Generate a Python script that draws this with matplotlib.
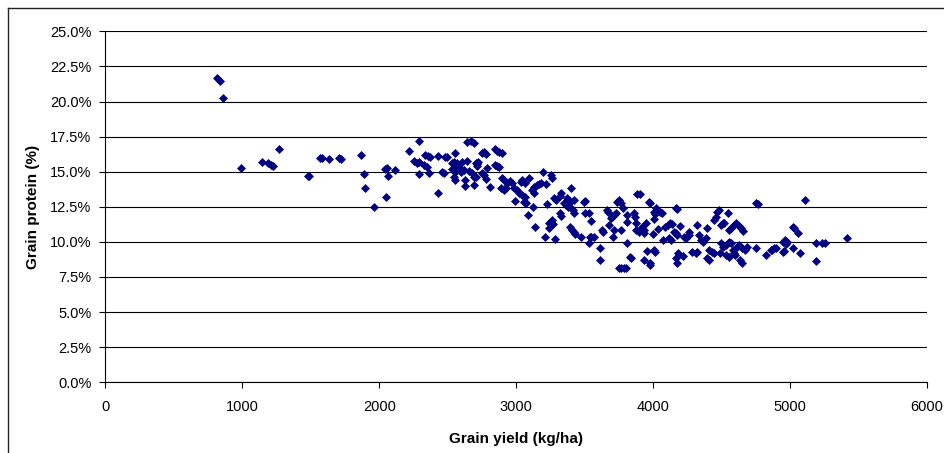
import matplotlib
matplotlib.use("Agg")
import matplotlib.pyplot as plt
from matplotlib.ticker import PercentFormatter, MultipleLocator
from matplotlib.lines import Line2D

plt.rcParams['font.family'] = ['Liberation Sans', 'DejaVu Sans']

# Grain yield (kg/ha)
yield_kg = [
    819, 838, 863, 992, 1142, 1187, 1209, 1228, 1270, 1479, 1490, 1565, 1580, 1631, 1707, 1722,
    1867, 1886, 1896, 1960, 2049, 2046, 2058, 2063, 2115,
    2216, 2287, 2255, 2273, 2287, 2287, 2336, 2356, 2373, 2324, 2349, 2361, 2427, 2430, 2459, 2471,
    2478, 2496, 2557, 2528, 2545, 2557, 2570, 2582, 2533, 2552, 2570, 2545, 2552, 2607, 2644, 2594,
    2619, 2626, 2626, 2644, 2668, 2692, 2656, 2675, 2692, 2705, 2724, 2717, 2705, 2754, 2766, 2778,
    2749, 2766, 2778, 2810, 2786, 2842, 2859, 2876, 2896, 2842, 2859, 2876, 2896, 2908, 2891, 2908,
    2926, 2958, 2970, 2995, 3032, 3044, 3007, 3024, 3044, 3056, 2933, 2913, 2982, 2575, 2692, 2715, 2760,
    3061, 3093, 3061, 3068, 3073, 3090, 3125, 3140, 3129, 3149, 3166, 3117, 3129, 3198, 3184, 3215,
    3252, 3265, 3228, 3208, 3240, 3252, 3265, 3269, 3240, 3282, 3277, 3290, 3326, 3321, 3321, 3331,
    3350, 3363, 3370, 3382, 3390, 3382, 3400, 3415, 3424, 3400, 3395, 3407, 3419, 3432, 3424, 3474,
    3493, 3505, 3505, 3530, 3550, 3537, 3547, 3530, 3572, 3611, 3611, 3626, 3636, 3660, 3670, 3677,
    3690, 3702, 3714, 3726, 3709, 3714, 3739, 3751, 3763, 3763, 3751, 3768, 3788, 3800, 3783, 3808,
    3813, 3808, 3832, 3842, 3861, 3866, 3874, 3874, 3898, 3886, 3905, 3916, 3931, 3935, 3931, 3972, 3977,
    3979, 3947, 3955, 3979, 4004, 4011, 4004, 4021, 3997, 4004, 4016, 4053, 4065, 4035, 4070, 4090,
    4110, 4127, 4139, 4151, 4164, 4176, 4169, 4176, 4119, 4134, 4181, 4164, 4176, 4195, 4217, 4225,
    4242, 4262, 4262, 4287, 4311, 4323, 4323, 4336, 4348, 4365, 4385, 4397, 4397, 4409, 4409, 4433,
    4446, 4446, 4458, 4470, 4482, 4495, 4509, 4520, 4495, 4513, 4532, 4490, 4545, 4532, 4552, 4556,
    4569, 4556, 4569, 4588, 4606, 4625, 4645, 4654, 4581, 4588, 4601, 4613, 4630, 4650, 4669, 4686,
    4638, 4650, 4748, 4768, 4755, 4827, 4859, 4883,
    5109, 5019, 5031, 5060, 4945, 4962, 4977, 4969, 4896, 4871, 4945, 4957, 5019, 5075, 5193, 5193,
    5235, 5252, 5419,
]

# Grain protein (%)
protein_pct = [
    21.67, 21.46, 20.25, 15.28, 15.71, 15.6, 15.48, 15.4, 16.64, 14.72, 14.7, 16.0, 15.95, 15.93, 15.97, 15.93,
    16.2, 14.86, 13.86, 12.49, 13.22, 15.19, 15.26, 14.72, 15.14,
    16.47, 17.19, 15.78, 15.64, 15.71, 14.81, 16.19, 16.12, 16.07, 15.48, 15.36, 14.88, 16.14, 13.46, 15.0, 14.88,
    16.02, 16.02, 16.36, 15.6, 15.71, 15.48, 15.64, 15.36, 15.17, 15.0, 15.12, 14.64, 14.41, 15.71, 15.78, 15.0,
    15.12, 14.41, 13.98, 17.14, 17.19, 17.02, 15.07, 14.88, 14.05, 15.6, 15.71, 15.4, 14.64, 16.31, 16.43, 16.26,
    14.88, 14.76, 14.46, 13.93, 15.24, 16.6, 16.5, 16.43, 16.35, 15.48, 15.4, 15.31, 14.57, 14.41, 13.82, 13.7,
    13.82, 14.36, 14.17, 12.94, 14.29, 14.41, 13.7, 13.5, 13.34, 12.86, 14.17, 13.74, 13.82, 15.19, 14.62, 15.52, 14.83,
    14.17, 14.53, 13.22, 12.86, 12.75, 11.94, 12.51, 11.08, 13.93, 14.05, 14.12, 13.7, 13.5, 14.96, 14.17, 14.12,
    14.76, 14.53, 12.7, 10.33, 11.32, 11.44, 11.56, 11.27, 10.97, 10.21, 13.1, 12.98, 13.46, 13.27, 12.04, 11.84,
    12.75, 12.63, 13.1, 12.98, 12.86, 12.51, 12.39, 12.27, 12.08, 13.82, 11.08, 10.85, 10.73, 10.56, 12.98, 10.37,
    12.86, 12.94, 12.04, 12.08, 11.51, 10.33, 10.37, 9.94, 10.33, 9.59, 8.71, 10.85, 10.73, 12.27, 12.15, 11.2,
    11.68, 11.8, 11.92, 12.04, 10.33, 10.85, 12.86, 12.98, 12.8, 10.85, 8.12, 8.12, 8.12, 8.12, 12.39, 11.92,
    11.44, 9.94, 8.95, 8.83, 12.04, 11.8, 11.32, 10.85, 10.73, 13.39, 13.39, 11.08, 10.85, 10.61, 8.71, 12.86, 8.35,
    12.8, 11.32, 9.35, 8.47, 12.15, 11.97, 11.61, 12.39, 10.54, 9.42, 9.3, 12.15, 12.04, 10.9, 10.14, 11.08,
    11.2, 11.32, 11.25, 10.73, 10.61, 10.49, 12.39, 12.32, 10.26, 10.14, 9.23, 8.83, 8.52, 11.13, 9.0, 10.37,
    10.26, 10.49, 10.73, 9.3, 9.19, 9.3, 11.2, 10.49, 10.14, 10.02, 10.26, 11.02, 8.83, 8.71, 9.42, 9.3,
    9.19, 11.56, 11.8, 12.15, 12.27, 11.2, 11.32, 11.37, 9.9, 9.66, 9.78, 9.19, 12.04, 9.07, 8.95, 10.85,
    10.97, 10.02, 9.9, 11.2, 11.32, 11.13, 10.97, 10.8, 9.42, 9.19, 9.07, 9.66, 9.78, 9.54, 9.42, 9.61,
    8.71, 8.52, 9.54, 12.68, 12.75, 9.07, 9.42, 9.54,
    12.98, 11.08, 11.02, 10.66, 10.02, 10.14, 10.02, 9.85, 9.54, 9.42, 9.3, 9.37, 9.59, 9.19, 9.9, 8.66,
    9.9, 9.9, 10.3,
]

x_ticks = [0, 1000, 2000, 3000, 4000, 5000, 6000]

W, H = 944, 453
fig = plt.figure(figsize=(W / 100, H / 100), dpi=100)
ax = fig.add_axes([105.3 / W, 1 - 382.3 / H, (927 - 105.3) / W, (382.3 - 31.3) / H])

ax.plot(yield_kg, protein_pct, linestyle='none', marker='D', markersize=3.6,
        markerfacecolor='#000080', markeredgecolor='#000080', markeredgewidth=0.5, zorder=3)

ax.set_xlim(0, 6000)
ax.set_ylim(0, 25)
ax.set_xticks(x_ticks)
ax.yaxis.set_major_locator(MultipleLocator(2.5))
ax.yaxis.set_major_formatter(PercentFormatter(xmax=100, decimals=1))
ax.grid(axis='y', color='black', linewidth=0.8, zorder=1)
ax.set_axisbelow(True)

for s in ['top', 'right']:
    ax.spines[s].set_visible(False)
for s in ['left', 'bottom']:
    ax.spines[s].set_color('black')
    ax.spines[s].set_linewidth(0.8)

ax.tick_params(axis='both', direction='out', length=4, width=0.8, color='black',
               labelsize=10.5, labelcolor='black')
ax.tick_params(axis='x', pad=9)
ax.tick_params(axis='y', pad=6)

ax.set_xlabel('Grain yield (kg/ha)', fontsize=11, fontweight='bold', labelpad=13)
ax.set_ylabel('Grain protein (%)', fontsize=11, fontweight='bold', labelpad=7)

# chart-area border (left and top visible)
fig.add_artist(Line2D([8 / W, 1.0], [1 - 8 / H, 1 - 8 / H], transform=fig.transFigure,
                      color='#222222', linewidth=1.0))
fig.add_artist(Line2D([8 / W, 8 / W], [0.0, 1 - 8 / H], transform=fig.transFigure,
                      color='#222222', linewidth=1.0))

fig.savefig('out.png', dpi=100)
